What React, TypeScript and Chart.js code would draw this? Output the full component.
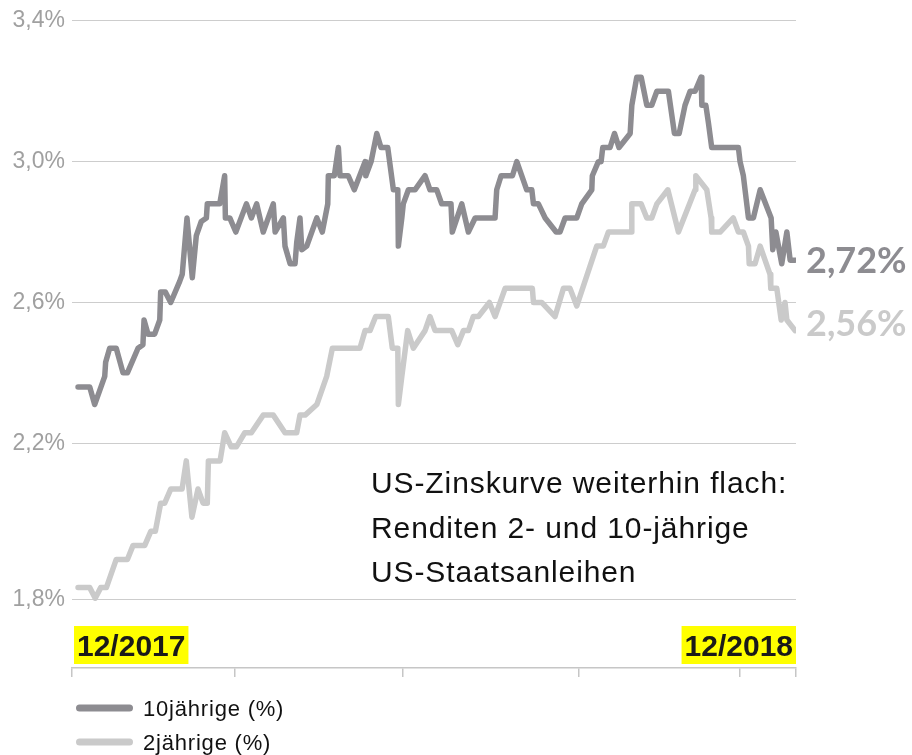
import React, { useEffect, useRef } from 'react';
import { Chart, registerables } from 'chart.js';

Chart.register(...registerables);

// days since 2017-12-01
const tenYearDays = [
  3.3, 9.7, 12.4, 17.9, 18.4, 20.6, 24.2, 27.9, 30.3, 36.1, 38.8, 39.4, 41.6, 45.2, 48.0, 48.5, 51.0, 54.0, 58.9, 60.3,
  62.9, 65.8, 68.0, 70.7, 73.5, 74.0, 80.8, 83.5, 83.9, 86.3, 89.6, 95.4, 98.1, 101.0, 104.6, 110.1, 111.1, 115.6, 116.5,
  119.3, 122.0, 122.9, 124.7, 125.7, 128.4, 133.9, 136.9, 139.9, 140.2, 143.5, 145.7, 146.6, 151.1, 154.4, 160.3, 160.7,
  163.6, 166.7, 169.0, 172.7, 175.8, 178.2, 178.5, 180.4, 181.2, 184.0, 187.6, 193.1, 195.8, 199.5, 202.2, 207.3, 208.0,
  213.2, 216.8, 220.5, 231.4, 232.3, 234.7, 240.9, 243.3, 248.7, 251.5, 252.4, 255.1, 258.8, 264.8, 266.9, 269.7, 276.1,
  278.8, 284.3, 284.6, 287.9, 289.4, 290.3, 294.3, 296.7, 299.2, 305.3, 306.2, 308.9, 311.3, 314.4, 317.1, 319.9, 326.2,
  329.5, 332.1, 335.3, 338.1, 340.8, 344.1, 344.5, 346.7, 348.1, 349.9, 364.5, 365.4, 367.2, 370.0, 372.7, 376.4, 382.4,
  383.3, 385.0, 388.2, 391.0, 392.8, 395.5,
];
const tenYearValues = [
  2.36, 2.36, 2.31, 2.39, 2.43, 2.47, 2.47, 2.40, 2.40, 2.47, 2.48, 2.55, 2.51, 2.51, 2.55, 2.63, 2.63, 2.60, 2.66, 2.68,
  2.84, 2.67, 2.79, 2.83, 2.84, 2.88, 2.88, 2.96, 2.84, 2.84, 2.80, 2.88, 2.84, 2.88, 2.80, 2.88, 2.80, 2.84, 2.76,
  2.71, 2.71, 2.77, 2.84, 2.75, 2.76, 2.84, 2.80, 2.88, 2.96, 2.96, 3.04, 2.96, 2.96, 2.92, 3.00, 2.96,
  3.00, 3.08, 3.04, 3.04, 2.92, 2.92, 2.76, 2.84, 2.88, 2.92, 2.92, 2.96, 2.92, 2.92, 2.88, 2.88, 2.80,
  2.88, 2.80, 2.84, 2.84, 2.92, 2.96, 2.96, 3.00, 2.92, 2.92, 2.88, 2.88, 2.84, 2.80, 2.80, 2.84, 2.84,
  2.88, 2.92, 2.96, 3.00, 3.00, 3.04, 3.04, 3.08, 3.04, 3.08, 3.16, 3.24, 3.24, 3.16, 3.16, 3.20, 3.20,
  3.08, 3.08, 3.16, 3.20, 3.20, 3.24, 3.16, 3.16, 3.11, 3.04, 3.04, 3.00, 2.96, 2.84, 2.84, 2.92, 2.84,
  2.75, 2.80, 2.71, 2.80, 2.72, 2.72,
];
const twoYearDays = [
  3.3, 9.7, 12.7, 15.7, 18.8, 24.2, 30.3, 33.4, 39.8, 43.1, 45.6, 48.5, 50.7, 54.0, 60.2, 62.5, 65.6, 68.9, 71.7, 74.0,
  74.6, 81.0, 83.5, 87.1, 89.9, 94.5, 98.1, 104.6, 110.1, 116.5, 122.9, 124.7, 127.5, 133.9, 139.3, 142.4, 157.5, 160.3,
  163.0, 166.1, 173.0, 175.2, 178.2, 178.5, 180.4, 183.6, 186.7, 193.1, 195.8, 198.6, 207.7, 211.0, 214.1, 216.8, 219.5,
  222.3, 228.3, 231.4, 236.9, 251.8, 252.4, 256.9, 264.2, 268.8, 272.4, 276.1, 287.0, 290.6, 293.4, 305.8, 306.2, 311.3,
  314.4, 317.1, 319.9, 325.9, 331.7, 340.8, 341.2, 347.2, 349.6, 349.9, 354.5, 361.7, 364.5, 367.2, 370.0, 370.4, 373.6,
  376.4, 381.8, 382.2, 385.5, 387.9, 390.0, 391.0, 395.5,
];
const twoYearValues = [
  1.79, 1.79, 1.76, 1.79, 1.79, 1.87, 1.87, 1.91, 1.91, 1.95, 1.95, 2.03, 2.03, 2.07, 2.07, 2.15, 1.99, 2.07, 2.03, 2.03,
  2.15, 2.15, 2.23, 2.19, 2.19, 2.23, 2.23, 2.28, 2.28, 2.23, 2.23, 2.28, 2.28, 2.31, 2.39, 2.47, 2.47, 2.52,
  2.52, 2.56, 2.56, 2.47, 2.47, 2.31, 2.39, 2.52, 2.47, 2.52, 2.56, 2.52, 2.52, 2.48, 2.52, 2.52, 2.56,
  2.56, 2.60, 2.56, 2.64, 2.64, 2.60, 2.60, 2.56, 2.64, 2.64, 2.59, 2.76, 2.76, 2.80, 2.80, 2.88, 2.88,
  2.84, 2.84, 2.88, 2.92, 2.80, 2.92, 2.96, 2.92, 2.84, 2.80, 2.80, 2.84, 2.80, 2.80, 2.76, 2.71, 2.71,
  2.76, 2.68, 2.64, 2.64, 2.55, 2.60, 2.55, 2.52,
];

const yTickValues = [1.755, 2.2, 2.6, 3.0, 3.4];
const yTickLabels = ['1,8%', '2,2%', '2,6%', '3,0%', '3,4%'];
const xTickDays = [0, 89, 181, 277, 365, 396];
const seriesLabels = ['10jährige (%)', '2jährige (%)'];
const seriesColors = ['#8d8c91', '#cacaca'];
const endLabels = ['2,72%', '2,56%'];
const periodLabels = ['12/2017', '12/2018'];
const noteLines = ['US-Zinskurve weiterhin flach:', 'Renditen 2- und 10-jährige', 'US-Staatsanleihen'];

const SANS = '"Liberation Sans", Arial, Helvetica, sans-serif';

const overlayPlugin = {
  id: 'overlay',
  afterDraw(chart: any) {
    const ctx = chart.ctx as CanvasRenderingContext2D;
    const a = chart.chartArea;
    ctx.save();
    ctx.textAlign = 'left';
    ctx.textBaseline = 'alphabetic';

    // period labels with yellow boxes
    ctx.font = `bold 30px ${SANS}`;
    const boxTop = a.bottom - 42;
    periodLabels.forEach((t, i) => {
      const w = ctx.measureText(t).width + 6;
      const x = i === 0 ? a.left + 2 : a.right - w;
      ctx.fillStyle = '#ffff00';
      ctx.fillRect(x, boxTop, w, 38);
      ctx.fillStyle = '#1a1a1a';
      ctx.fillText(t, x + 3, boxTop + 30);
    });

    // end value labels
    ctx.font = `700 36px Lato, "Open Sans", sans-serif`;
    const offs = [13, 5.5];
    [0, 1].forEach((i) => {
      const meta = chart.getDatasetMeta(i);
      const p = meta.data[meta.data.length - 1];
      ctx.fillStyle = seriesColors[i];
      ctx.fillText(endLabels[i], a.right + 10, p.y + offs[i]);
    });

    // note text
    ctx.font = `30px ${SANS}`;
    (ctx as any).letterSpacing = '0.9px';
    ctx.fillStyle = '#111111';
    noteLines.forEach((t, i) => {
      ctx.fillText(t, 371, 493 + i * 44.5);
    });

    // legend
    ctx.font = `22px ${SANS}`;
    (ctx as any).letterSpacing = '0.8px';
    seriesLabels.forEach((t, i) => {
      const y = 708 + i * 34;
      ctx.strokeStyle = seriesColors[i];
      ctx.lineWidth = 7;
      ctx.lineCap = 'round';
      ctx.beginPath();
      ctx.moveTo(79.5, y);
      ctx.lineTo(129.5, y);
      ctx.stroke();
      ctx.fillStyle = '#111111';
      ctx.fillText(t, 143, y + 8);
    });
    (ctx as any).letterSpacing = '0px';
    ctx.restore();
  },
};

export default function App() {
  const canvasRef = useRef<HTMLCanvasElement | null>(null);

  useEffect(() => {
    const canvas = canvasRef.current;
    if (!canvas) return;
    const chart = new Chart(canvas, {
      type: 'line',
      data: {
        datasets: [
          {
            label: seriesLabels[0],
            data: tenYearDays.map((d, i) => ({ x: d, y: tenYearValues[i] })),
            borderColor: seriesColors[0],
            borderWidth: 5.5,
            pointRadius: 0,
            tension: 0,
            fill: false,
            borderJoinStyle: 'round',
            borderCapStyle: 'round',
          },
          {
            label: seriesLabels[1],
            data: twoYearDays.map((d, i) => ({ x: d, y: twoYearValues[i] })),
            borderColor: seriesColors[1],
            borderWidth: 5.5,
            pointRadius: 0,
            tension: 0,
            fill: false,
            borderJoinStyle: 'round',
            borderCapStyle: 'round',
          },
        ],
      },
      options: {
        responsive: false,
        animation: false,
        layout: { padding: { left: 0, right: 116, top: 20, bottom: 0 } },
        plugins: {
          legend: { display: false },
          tooltip: { enabled: false },
        },
        scales: {
          x: {
            type: 'linear',
            min: 0,
            max: 396,
            afterBuildTicks: (scale: any) => {
              scale.ticks = xTickDays.map((v) => ({ value: v }));
            },
            afterFit: (scale: any) => {
              scale.height = 87;
            },
            ticks: { display: false },
            grid: {
              drawOnChartArea: false,
              drawTicks: true,
              tickLength: 9,
              color: '#c6c6c6',
              lineWidth: 1.5,
            },
            border: { display: true, color: '#c6c6c6', width: 1.5 },
          },
          y: {
            type: 'linear',
            min: 1.5617,
            max: 3.4,
            afterBuildTicks: (scale: any) => {
              scale.ticks = yTickValues.map((v) => ({ value: v }));
            },
            afterFit: (scale: any) => {
              scale.width = 72;
            },
            ticks: {
              padding: 7,
              color: '#a0a0a0',
              font: { family: SANS, size: 23 },
              callback: (_v: any, i: number) => yTickLabels[i],
            },
            grid: { drawTicks: false, color: '#cdcdcd', lineWidth: 1 },
            border: { display: false },
          },
        },
      },
      plugins: [overlayPlugin],
    } as any);
    return () => chart.destroy();
  }, []);

  return (
    <div style={{ position: 'fixed', left: 0, top: 0, width: 912, height: 755, background: '#ffffff' }}>
      <canvas ref={canvasRef} width={912} height={755} style={{ width: 912, height: 755, display: 'block' }} />
    </div>
  );
}
